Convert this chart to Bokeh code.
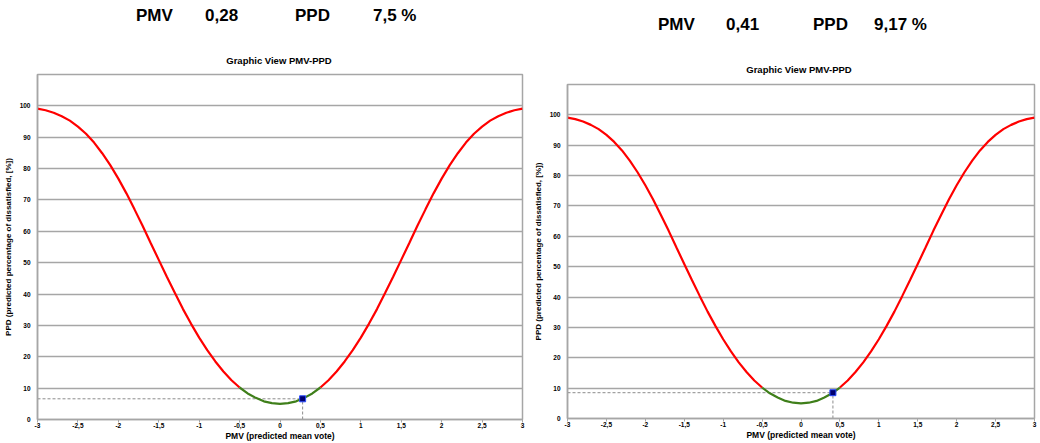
from bokeh.plotting import figure
from bokeh.models import Range1d, FixedTicker, Div
from bokeh.layouts import row, column
from bokeh.embed import file_html
from bokeh.resources import INLINE

# ---- data ----
pmv_grid = [-3.0, -2.9, -2.8, -2.7, -2.6, -2.5, -2.4, -2.3, -2.2, -2.1,
            -2.0, -1.9, -1.8, -1.7, -1.6, -1.5, -1.4, -1.3, -1.2, -1.1,
            -1.0, -0.9, -0.8, -0.7, -0.6, -0.5, -0.4, -0.3, -0.2, -0.1,
            0.0, 0.1, 0.2, 0.3, 0.4, 0.5, 0.6, 0.7, 0.8, 0.9,
            1.0, 1.1, 1.2, 1.3, 1.4, 1.5, 1.6, 1.7, 1.8, 1.9,
            2.0, 2.1, 2.2, 2.3, 2.4, 2.5, 2.6, 2.7, 2.8, 2.9, 3.0]
ppd_curve = [99.1, 98.6, 97.8, 96.7, 95.3, 93.4, 91.1, 88.3, 84.9, 81.1,
             76.8, 72.1, 67.0, 61.8, 56.3, 50.9, 45.5, 40.3, 35.2, 30.5,
             26.1, 22.1, 18.5, 15.3, 12.5, 10.2, 8.3, 6.9, 5.8, 5.2,
             5.0, 5.2, 5.8, 6.9, 8.3, 10.2, 12.5, 15.3, 18.5, 22.1,
             26.1, 30.5, 35.2, 40.3, 45.5, 50.9, 56.3, 61.8, 67.0, 72.1,
             76.8, 81.1, 84.9, 88.3, 91.1, 93.4, 95.3, 96.7, 97.8, 98.6, 99.1]
comfort_limit = 0.5

x_ticks = [-3, -2.5, -2, -1.5, -1, -0.5, 0, 0.5, 1, 1.5, 2, 2.5, 3]
x_tick_labels = ["-3", "-2,5", "-2", "-1,5", "-1", "-0,5", "0", "0,5", "1", "1,5", "2", "2,5", "3"]
y_ticks = [0, 10, 20, 30, 40, 50, 60, 70, 80, 90, 100]

panel_pmv = [0.28, 0.41]
panel_ppd_point = [6.6, 8.5]
panel_pmv_text = ["0,28", "0,41"]
panel_ppd_text = ["7,5 %", "9,17 %"]

chart_title = "Graphic View PMV-PPD"
x_label = "PMV (predicted mean vote)"
y_label = "PPD (predicted percentage of dissatisfied, [%])"

FONT = "Liberation Sans"
GRID = "#a6a6a6"


def make_header(i, width, height, head_x, head_y, title_cx, title_y):
    words = ["PMV", panel_pmv_text[i], "PPD", panel_ppd_text[i]]
    spans = []
    for w, hx in zip(words, head_x):
        spans.append(
            f'<span style="position:absolute;left:{hx}px;top:{head_y - 10}px;'
            f'font:bold 17px \'{FONT}\';line-height:20px;color:black;white-space:nowrap;">{w}</span>')
    spans.append(
        f'<span style="position:absolute;left:{title_cx - 100}px;width:200px;top:{title_y - 6}px;'
        f'text-align:center;font:bold 9.5px \'{FONT}\';line-height:12px;color:black;white-space:nowrap;">'
        f'{chart_title}</span>')
    html = f'<div style="position:relative;width:{width}px;height:{height}px;margin:0;padding:0;">' + "".join(spans) + '</div>'
    return Div(text=html, width=width, height=height, margin=0,
               styles={"margin": "0", "padding": "0"})


def make_panel(i, width, height, b_left, b_right, b_top, b_bottom):
    p = figure(width=width, height=height, output_backend="svg", toolbar_location=None,
               x_range=Range1d(-3, 3), y_range=Range1d(0, 110),
               min_border_left=b_left, min_border_right=b_right,
               min_border_top=b_top, min_border_bottom=b_bottom,
               background_fill_color="white", border_fill_color="white", margin=0)
    p.outline_line_color = GRID
    p.outline_line_width = 1.5
    p.xgrid.visible = False
    p.ygrid.ticker = FixedTicker(ticks=y_ticks)
    p.ygrid.grid_line_color = GRID
    p.ygrid.grid_line_width = 1.5

    p.xaxis.ticker = FixedTicker(ticks=x_ticks)
    p.xaxis.major_label_overrides = {t: l for t, l in zip(x_ticks, x_tick_labels)}
    p.yaxis.ticker = FixedTicker(ticks=y_ticks)
    for ax in (p.xaxis, p.yaxis):
        ax.axis_line_color = GRID
        ax.axis_line_width = 1.5
        ax.minor_tick_line_color = None
        ax.major_tick_in = 0
        ax.major_label_text_font = FONT
        ax.major_label_text_font_style = "bold"
        ax.major_label_text_font_size = "6.5px"
        ax.major_label_text_color = "black"
        ax.axis_label_text_font = FONT
        ax.axis_label_text_font_style = "bold"
        ax.axis_label_text_color = "black"
    p.xaxis.axis_label_text_font_size = "8.5px"
    p.yaxis.axis_label_text_font_size = "8px"
    p.xaxis.major_tick_out = 3
    p.xaxis.major_tick_line_color = GRID
    p.xaxis.major_label_standoff = 0
    p.xaxis.axis_label_standoff = 0
    p.yaxis.major_tick_out = 0
    p.yaxis.major_tick_line_color = None
    p.yaxis.major_label_standoff = 7
    p.yaxis.axis_label_standoff = 4
    p.xaxis.axis_label = x_label
    p.yaxis.axis_label = y_label

    pmv = panel_pmv[i]
    ppd = panel_ppd_point[i]
    # dashed guides to the operating point
    p.line([p.x_range.start, pmv], [ppd, ppd], line_color="#8c8c8c", line_dash="3 2", line_width=1)
    p.line([pmv, pmv], [p.y_range.start, ppd], line_color="#8c8c8c", line_dash="3 2", line_width=1)

    left_x = [x for x in pmv_grid if x <= -comfort_limit]
    left_y = [y for x, y in zip(pmv_grid, ppd_curve) if x <= -comfort_limit]
    right_x = [x for x in pmv_grid if x >= comfort_limit]
    right_y = [y for x, y in zip(pmv_grid, ppd_curve) if x >= comfort_limit]
    mid_x = [x for x in pmv_grid if -comfort_limit <= x <= comfort_limit]
    mid_y = [y for x, y in zip(pmv_grid, ppd_curve) if -comfort_limit <= x <= comfort_limit]
    p.line(left_x, left_y, line_color="#ff0000", line_width=2.2)
    p.line(right_x, right_y, line_color="#ff0000", line_width=2.2)
    p.line(mid_x, mid_y, line_color="#3f7f1a", line_width=2.2)

    p.scatter([pmv], [ppd], marker="square", size=6, fill_color="#000070",
              line_color="#2a4cff", line_width=1)
    return p


# left panel: header div 70 px, plot frame 74..419
h1 = make_header(0, 530, 70, [136, 205, 295, 373], 16, 279, 61)
p1 = make_panel(0, 530, 373, 37, 8, 4, 24)
# right panel: header div 80 px, plot frame 84..418
h2 = make_header(1, 510, 80, [658 - 530, 726 - 530, 813 - 530, 874 - 530], 25, 799 - 530, 70)
p2 = make_panel(1, 510, 363, 34, 6, 4, 25)

layout = row(column(h1, p1, spacing=0, margin=0), column(h2, p2, spacing=0, margin=0),
             spacing=0, margin=0)
open("out.html", "w").write(file_html(layout, INLINE))
